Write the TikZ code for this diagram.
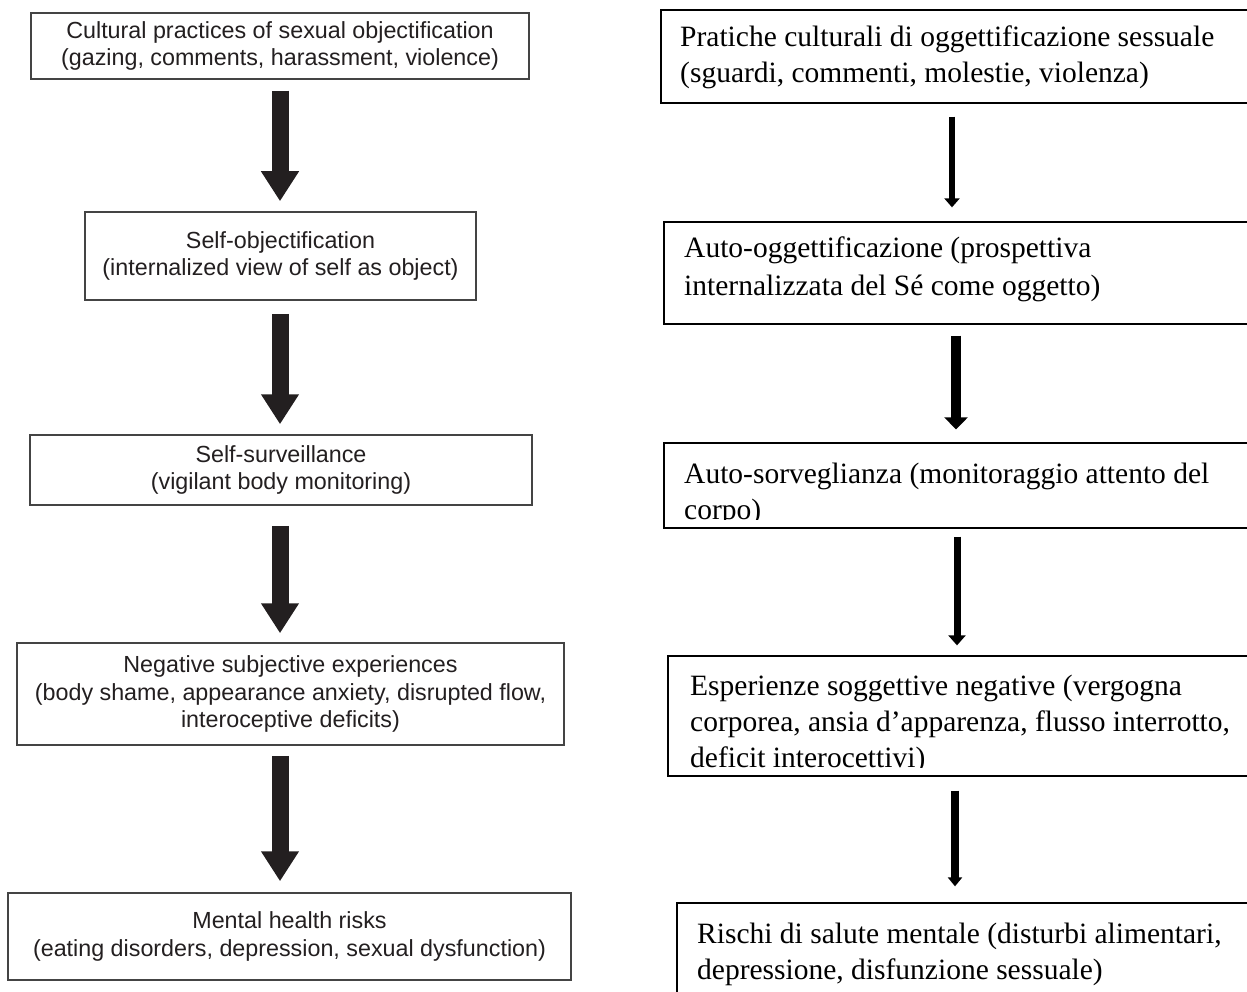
\documentclass[tikz,border=0pt]{standalone}
\usepackage{fontspec}
\setmainfont{Liberation Serif}
\newfontfamily\lsans{Liberation Sans}
\usetikzlibrary{arrows.meta}
\definecolor{ink}{HTML}{231F20}
\definecolor{frameL}{HTML}{444444}
\begin{document}
\begin{tikzpicture}[x=1pt,y=-1pt,
  lbox/.style={draw=frameL, line width=1.5pt, inner sep=0pt, align=center,
    font=\lsans\fontsize{23.3}{27.5}\selectfont, text=ink},
  rbox/.style={draw=black, line width=1.3pt, inner sep=0pt},
  rtext/.style={anchor=base west, inner sep=0pt, font=\fontsize{29.5}{36}\selectfont, text=black},
  bigarrow/.style={line width=17pt, draw=ink, -{Triangle[width=36pt,length=30pt]}},
  rarr/.style args={#1/#2/#3}{line width=#1, draw=black, -{Triangle[width=#2,length=#3]}}
]
\useasboundingbox (0,0) rectangle (1247,992);
\fill[white] (0,0) rectangle (1247,992);
\clip (0,0) rectangle (1247,992);

% ---------- left column ----------
\coordinate (axisL) at (280,0);
\node[lbox, minimum width=498pt, minimum height=66pt] (b1) at (280,46)
  {Cultural practices of sexual objectification\\(gazing, comments, harassment, violence)};
\node[lbox, minimum width=391pt, minimum height=88pt] (b2) at (280.5,256)
  {Self-objectification\\(internalized view of self as object)};
\node[lbox, minimum width=502pt, minimum height=70pt] (b3) at (281,470)
  {Self-surveillance\\(vigilant body monitoring)};
\node[lbox, minimum width=547pt, minimum height=102pt] (b4) at (290.5,694)
  {Negative subjective experiences\\(body shame, appearance anxiety, disrupted flow,\\interoceptive deficits)};
\node[lbox, minimum width=563pt, minimum height=87pt] (b5) at (289.5,936.5)
  {Mental health risks\\(eating disorders, depression, sexual dysfunction)};

\draw[bigarrow, shorten <=11pt, shorten >=10pt] (b1.south -| axisL) -- (b2.north -| axisL);
\draw[bigarrow, shorten <=13pt, shorten >=10pt] (b2.south -| axisL) -- (b3.north -| axisL);
\draw[bigarrow, shorten <=20pt, shorten >=9pt] (b3.south -| axisL) -- (b4.north -| axisL);
\draw[bigarrow, shorten <=10pt, shorten >=11pt] (b4.south -| axisL) -- (b5.north -| axisL);

% ---------- right column ----------
\node[rbox, minimum width=639pt, minimum height=93pt] (r1) at (980.5,56.5) {};
\node[rbox, minimum width=636pt, minimum height=102pt] (r2) at (982,273) {};
\node[rbox, minimum width=636pt, minimum height=85pt] (r3) at (982,485.5) {};
\node[rbox, minimum width=632pt, minimum height=120pt] (r4) at (984,716) {};
\node[rbox, minimum width=623pt, minimum height=107pt] (r5) at (988.5,956.5) {};

\node[rtext] (t1a) at (680,47) {Pratiche culturali di oggettificazione sessuale};
\node[rtext] (t1b) at (680,83) {(sguardi, commenti, molestie, violenza)};
\node[rtext] (t2a) at (684,258) {Auto-oggettificazione (prospettiva};
\node[rtext] (t2b) at (684,295) {internalizzata del Sé come oggetto)};
\begin{scope}
\clip (r3.north west) rectangle (1247,519);
\node[rtext] (t3a) at (684,483) {Auto-sorveglianza (monitoraggio attento del};
\node[rtext] (t3b) at (684,519) {corpo)};
\end{scope}
\begin{scope}
\clip (r4.north west) rectangle (1247,767);
\node[rtext] (t4a) at (690,695) {Esperienze soggettive negative (vergogna};
\node[rtext] (t4b) at (690,731) {corporea, ansia d’apparenza, flusso interrotto,};
\node[rtext] (t4c) at (690,767) {deficit interocettivi)};
\end{scope}
\node[rtext] (t5a) at (697,943) {Rischi di salute mentale (disturbi alimentari,};
\node[rtext] (t5b) at (697,979) {depressione, disfunzione sessuale)};

\coordinate (xa1) at (952,0);
\coordinate (xa2) at (956,0);
\coordinate (xa3) at (957,0);
\coordinate (xa4) at (955,0);
\draw[rarr=6pt/15pt/9pt, shorten <=13pt, shorten >=14pt] (r1.south -| xa1) -- (r2.north -| xa1);
\draw[rarr=10pt/23pt/12pt, shorten <=11pt, shorten >=13pt] (r2.south -| xa2) -- (r3.north -| xa2);
\draw[rarr=7pt/17pt/10pt, shorten <=8pt, shorten >=10pt] (r3.south -| xa3) -- (r4.north -| xa3);
\draw[rarr=8pt/14pt/9pt, shorten <=14pt, shorten >=16pt] (r4.south -| xa4) -- (r5.north -| xa4);
\end{tikzpicture}
\end{document}
